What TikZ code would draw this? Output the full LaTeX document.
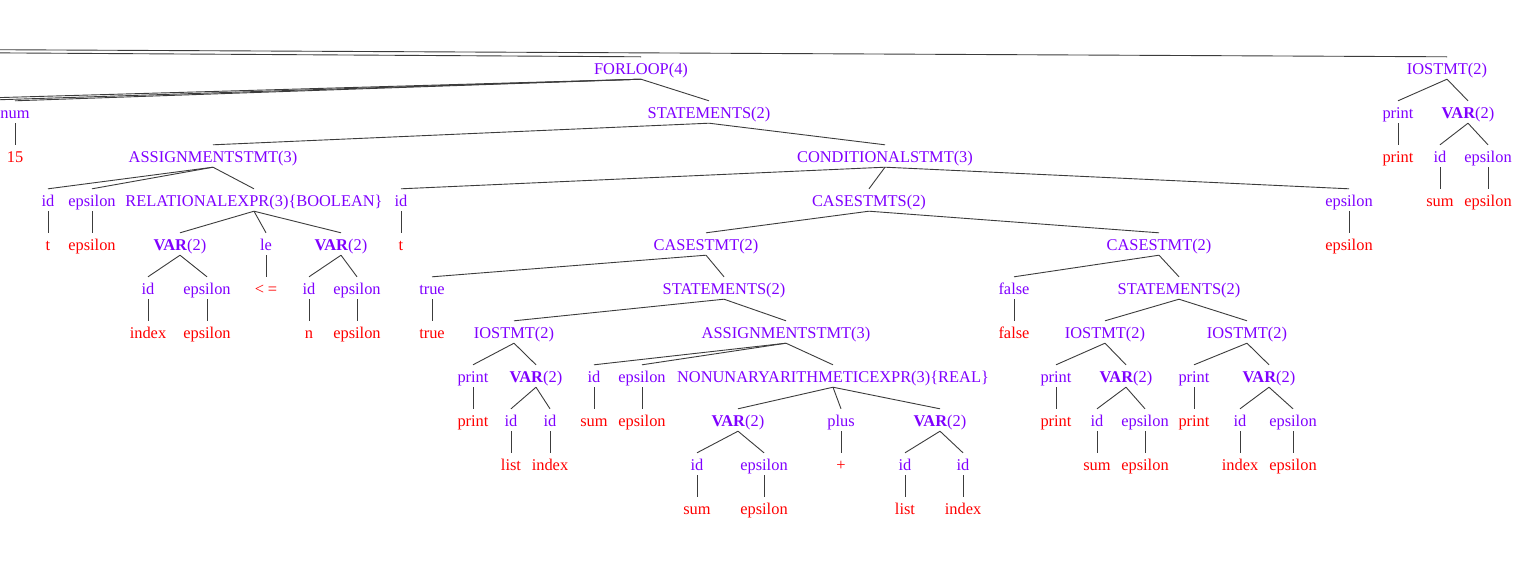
\documentclass[tikz,border=0pt]{standalone}
\usepackage{fontspec}
\setmainfont{Liberation Serif}
\definecolor{ntc}{RGB}{128,0,255}
\definecolor{tmc}{RGB}{255,0,0}
\definecolor{edgec}{RGB}{60,60,60}
\tikzset{
  lbl/.style={inner xsep=0pt, inner ysep=0pt, text height=17pt, text depth=5pt, anchor=base, font=\fontsize{16.4}{19}\selectfont},
  nt/.style={lbl, text=ntc},
  tm/.style={lbl, text=tmc},
  edge/.style={draw=edgec, line width=0.9pt}
}
\newcommand{\varlbl}{\textbf{VAR}(2)}
\begin{document}
\begin{tikzpicture}[x=1pt,y=-1pt]
\useasboundingbox (0,0) rectangle (1516,587);
\fill[white] (0,0) rectangle (1516,587);
\clip (0,0) rectangle (1516,587);
% row 0
\node[nt] (forloop) at (641,74) {FORLOOP(4)};
\node[nt] (io0) at (1447,74) {IOSTMT(2)};
% row 1
\node[nt] (num) at (15,118) {num};
\node[nt] (st0) at (709,118) {STATEMENTS(2)};
\node[nt] (pr0) at (1398,118) {print};
\node[nt] (var0) at (1468,118) {\varlbl};
% row 2
\node[tm] (n15) at (15,162) {15};
\node[nt] (as0) at (213,162) {ASSIGNMENTSTMT(3)};
\node[nt] (cond) at (885,162) {CONDITIONALSTMT(3)};
\node[tm] (pr0t) at (1398,162) {print};
\node[nt] (id0) at (1440,162) {id};
\node[nt] (ep0) at (1488,162) {epsilon};
% row 3
\node[nt] (id1) at (48,206) {id};
\node[nt] (ep1) at (92,206) {epsilon};
\node[nt] (rel) at (254,206) {RELATIONALEXPR(3)\{BOOLEAN\}};
\node[nt] (id2) at (401,206) {id};
\node[nt] (csts) at (869,206) {CASESTMTS(2)};
\node[nt] (ep2) at (1349,206) {epsilon};
\node[tm] (id0t) at (1440,206) {sum};
\node[tm] (ep0t) at (1488,206) {epsilon};
% row 4
\node[tm] (id1t) at (48,250) {t};
\node[tm] (ep1t) at (92,250) {epsilon};
\node[nt] (var1) at (180,250) {\varlbl};
\node[nt] (le) at (266,250) {le};
\node[nt] (var2) at (341,250) {\varlbl};
\node[tm] (id2t) at (401,250) {t};
\node[nt] (cs1) at (706,250) {CASESTMT(2)};
\node[nt] (cs2) at (1159,250) {CASESTMT(2)};
\node[tm] (ep2t) at (1349,250) {epsilon};
% row 5
\node[nt] (id3) at (148,294) {id};
\node[nt] (ep3) at (207,294) {epsilon};
\node[tm] (let) at (266,294) {<\kern4pt=};
\node[nt] (id4) at (309,294) {id};
\node[nt] (ep4) at (357,294) {epsilon};
\node[nt] (tr) at (432,294) {true};
\node[nt] (st1) at (724,294) {STATEMENTS(2)};
\node[nt] (fa) at (1014,294) {false};
\node[nt] (st2) at (1179,294) {STATEMENTS(2)};
% row 6
\node[tm] (id3t) at (148,338) {index};
\node[tm] (ep3t) at (207,338) {epsilon};
\node[tm] (id4t) at (309,338) {n};
\node[tm] (ep4t) at (357,338) {epsilon};
\node[tm] (trt) at (432,338) {true};
\node[nt] (io1) at (514,338) {IOSTMT(2)};
\node[nt] (as1) at (786,338) {ASSIGNMENTSTMT(3)};
\node[tm] (fat) at (1014,338) {false};
\node[nt] (io2) at (1105,338) {IOSTMT(2)};
\node[nt] (io3) at (1247,338) {IOSTMT(2)};
% row 7
\node[nt] (pr1) at (473,382) {print};
\node[nt] (var3) at (536,382) {\varlbl};
\node[nt] (id5) at (594,382) {id};
\node[nt] (ep5) at (642,382) {epsilon};
\node[nt] (nua) at (833,382) {NONUNARYARITHMETICEXPR(3)\{REAL\}};
\node[nt] (pr2) at (1056,382) {print};
\node[nt] (var4) at (1126,382) {\varlbl};
\node[nt] (pr3) at (1194,382) {print};
\node[nt] (var5) at (1269,382) {\varlbl};
% row 8
\node[tm] (pr1t) at (473,426) {print};
\node[nt] (id6) at (511,426) {id};
\node[nt] (id7) at (550,426) {id};
\node[tm] (id5t) at (594,426) {sum};
\node[tm] (ep5t) at (642,426) {epsilon};
\node[nt] (var6) at (738,426) {\varlbl};
\node[nt] (plus) at (841,426) {plus};
\node[nt] (var7) at (940,426) {\varlbl};
\node[tm] (pr2t) at (1056,426) {print};
\node[nt] (id8) at (1097,426) {id};
\node[nt] (ep8) at (1145,426) {epsilon};
\node[tm] (pr3t) at (1194,426) {print};
\node[nt] (id9) at (1240,426) {id};
\node[nt] (ep9) at (1293,426) {epsilon};
% row 9
\node[tm] (id6t) at (511,470) {list};
\node[tm] (id7t) at (550,470) {index};
\node[nt] (id10) at (697,470) {id};
\node[nt] (ep10) at (764,470) {epsilon};
\node[tm] (plust) at (841,470) {+};
\node[nt] (id11) at (905,470) {id};
\node[nt] (id12) at (963,470) {id};
\node[tm] (id8t) at (1097,470) {sum};
\node[tm] (ep8t) at (1145,470) {epsilon};
\node[tm] (id9t) at (1240,470) {index};
\node[tm] (ep9t) at (1293,470) {epsilon};
% row 10
\node[tm] (id10t) at (697,514) {sum};
\node[tm] (ep10t) at (764,514) {epsilon};
\node[tm] (id11t) at (905,514) {list};
\node[tm] (id12t) at (963,514) {index};
% off-picture ends
\coordinate (root) at (-2600,37);
\coordinate (fl1) at (-40,101);
\coordinate (fl2) at (-120,101);
\draw[edge] (root) -- (forloop.north);
\draw[edge] (root) -- (io0.north);
\draw[edge] (forloop.south) -- (fl1);
\draw[edge] (forloop.south) -- (fl2);
\foreach \a/\b in {forloop/num, forloop/st0, io0/pr0, io0/var0, pr0/pr0t, var0/id0, var0/ep0, id0/id0t, ep0/ep0t,
  num/n15, st0/as0, st0/cond, as0/id1, as0/ep1, as0/rel, id1/id1t, ep1/ep1t,
  rel/var1, rel/le, rel/var2, var1/id3, var1/ep3, id3/id3t, ep3/ep3t, le/let, var2/id4, var2/ep4, id4/id4t, ep4/ep4t,
  cond/id2, cond/csts, cond/ep2, id2/id2t, ep2/ep2t, csts/cs1, csts/cs2,
  cs1/tr, cs1/st1, tr/trt, st1/io1, st1/as1, io1/pr1, io1/var3, pr1/pr1t, var3/id6, var3/id7, id6/id6t, id7/id7t,
  as1/id5, as1/ep5, as1/nua, id5/id5t, ep5/ep5t, nua/var6, nua/plus, nua/var7, var6/id10, var6/ep10, id10/id10t, ep10/ep10t,
  plus/plust, var7/id11, var7/id12, id11/id11t, id12/id12t,
  cs2/fa, cs2/st2, fa/fat, st2/io2, st2/io3, io2/pr2, io2/var4, pr2/pr2t, var4/id8, var4/ep8, id8/id8t, ep8/ep8t,
  io3/pr3, io3/var5, pr3/pr3t, var5/id9, var5/ep9, id9/id9t, ep9/ep9t}
  \draw[edge] (\a.south) -- (\b.north);
\end{tikzpicture}
\end{document}
